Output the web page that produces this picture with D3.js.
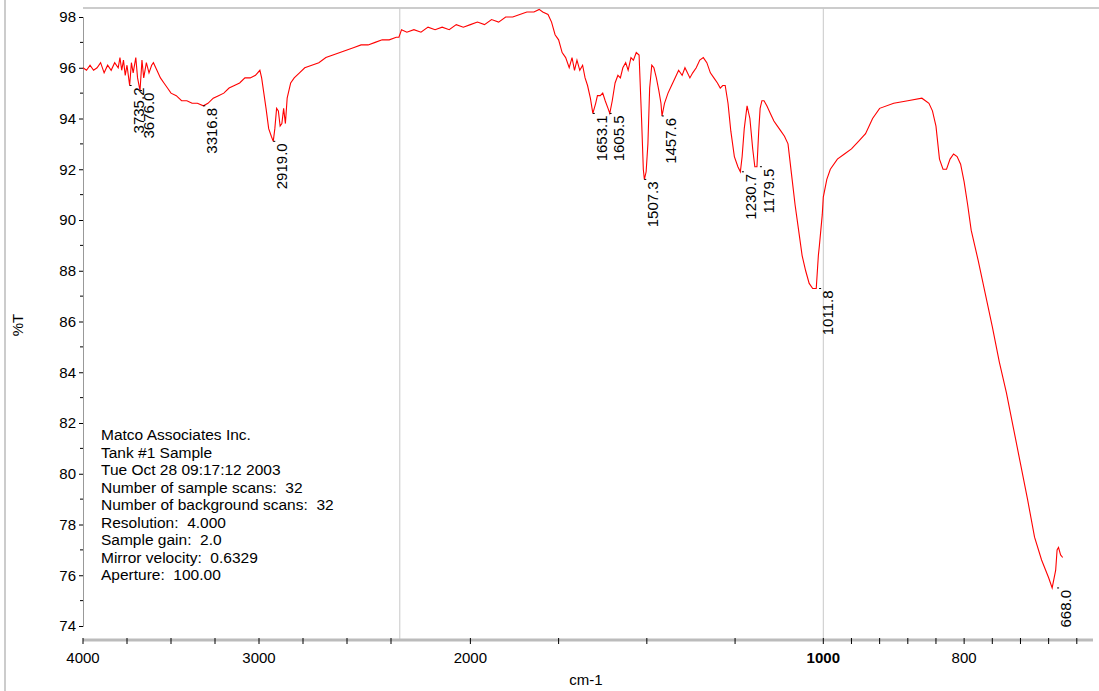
<!DOCTYPE html>
<html>
<head>
<meta charset="utf-8">
<script src="https://cdn.jsdelivr.net/npm/d3@7"></script>
<style>
body { margin: 0; background: #fff; font-family: "Liberation Sans", Arial, sans-serif; }
</style>
</head>
<body>
<script>
// spectrum, wavenumber (cm-1) and %T
const wavenumbers = [4000,3980,3960,3940,3920,3900,3880,3860,3840,3820,3800,3790,3780,3770,3760,3750,3735,3725,3715,3700,3690,3676,3665,3655,3640,3625,3610,3600,3580,3560,3540,3520,3500,3470,3440,3410,3380,3350,3316,3290,3260,3230,3200,3170,3140,3110,3080,3050,3020,2995,2985,2960,2945,2930,2919,2910,2900,2890,2880,2870,2860,2850,2840,2820,2800,2770,2740,2700,2660,2620,2580,2540,2500,2460,2420,2380,2340,2300,2260,2220,2205,2195,2180,2160,2140,2120,2100,2080,2060,2040,2020,2000,1980,1960,1940,1920,1900,1880,1860,1840,1820,1805,1795,1780,1770,1760,1750,1740,1730,1720,1712,1705,1698,1690,1682,1675,1668,1660,1653,1645,1640,1632,1625,1618,1610,1605,1598,1590,1582,1575,1568,1560,1553,1545,1538,1530,1522,1515,1510,1507,1502,1497,1492,1486,1480,1473,1466,1460,1457,1450,1440,1430,1420,1410,1400,1392,1385,1378,1370,1360,1350,1340,1330,1320,1310,1300,1292,1285,1278,1270,1262,1252,1242,1235,1230,1224,1216,1208,1200,1194,1188,1183,1179,1174,1168,1160,1150,1140,1130,1120,1110,1100,1090,1080,1070,1060,1050,1040,1030,1020,1014,1011,1007,1003,1000,995,990,980,970,960,950,940,930,920,900,880,860,850,845,840,835,830,825,820,815,810,805,800,795,790,780,770,760,750,740,730,720,710,700,690,680,675,670,668,666,663,660,655,650];
const transmittance = [96.0,95.9,96.1,95.9,96.0,96.2,95.8,96.1,95.9,96.2,96.0,96.4,95.9,96.3,95.7,96.1,95.3,96.2,95.8,96.4,95.6,95.1,96.3,95.6,96.2,95.8,96.1,96.2,95.9,95.6,95.4,95.2,95.0,94.9,94.7,94.7,94.6,94.6,94.5,94.6,94.8,94.9,95.0,95.2,95.3,95.4,95.6,95.6,95.7,95.9,95.6,94.4,93.6,93.3,93.1,93.6,94.4,94.3,93.7,93.8,94.4,93.8,94.8,95.4,95.6,95.8,96.0,96.1,96.2,96.4,96.5,96.6,96.7,96.8,96.9,96.9,97.0,97.1,97.1,97.2,97.2,97.5,97.4,97.5,97.4,97.6,97.5,97.6,97.5,97.7,97.6,97.7,97.8,97.7,97.9,97.8,98.0,98.0,98.1,98.2,98.2,98.3,98.2,98.1,97.8,97.3,97.1,96.6,96.4,96.0,96.4,95.9,96.3,95.9,96.1,95.6,95.3,94.8,94.2,94.6,94.9,94.9,95.0,94.7,94.4,94.2,94.7,95.4,95.7,95.6,96.0,96.2,95.9,96.4,96.3,96.6,96.5,94.0,92.0,91.6,91.9,93.0,95.2,96.1,96.0,95.6,95.1,94.6,94.1,94.6,95.0,95.3,95.6,95.9,95.7,96.0,95.8,95.6,95.8,96.0,96.3,96.4,96.2,95.8,95.6,95.4,95.2,95.3,95.3,94.6,93.5,92.5,92.1,91.9,92.5,93.6,94.5,94.0,92.8,92.1,92.1,93.5,94.4,94.7,94.7,94.5,94.2,93.9,93.7,93.5,93.3,93.0,91.8,90.6,89.6,88.6,88.0,87.5,87.3,87.3,88.6,89.0,89.6,90.2,90.9,91.6,92.0,92.4,92.6,92.8,93.1,93.4,94.0,94.4,94.6,94.7,94.8,94.6,94.3,93.7,92.4,92.0,92.0,92.4,92.6,92.5,92.2,91.5,90.6,89.6,88.4,87.1,85.8,84.4,83.2,81.8,80.4,79.0,77.5,76.6,75.9,75.5,76.2,77.0,77.1,76.8,76.7];

const peakLabels = ["3735.2","3676.0","3316.8","2919.0","1653.1","1605.5","1507.3","1457.6","1230.7","1179.5","1011.8","668.0"];
const peakPositions = [3735.2,3676.0,3316.8,2919.0,1653.1,1605.5,1507.3,1457.6,1230.7,1179.5,1011.8,668.0];
const peakValues = [95.3,95.1,94.5,93.1,94.2,94.2,91.6,94.1,91.9,92.1,87.3,75.5];

const yTicks = [74,76,78,80,82,84,86,88,90,92,94,96,98];
const xTickLabels = [4000,3000,2000,1000,800];
const xMinorTicks = [3750,3500,3250,2750,2500,2250,1750,1500,1250,960,920,880,840,760,720,680,640];
const infoLines = ["Matco Associates Inc.","Tank #1 Sample","Tue Oct 28 09:17:12 2003","Number of sample scans:  32","Number of background scans:  32","Resolution:  4.000","Sample gain:  2.0","Mirror velocity:  0.6329","Aperture:  100.00"];

const W = 1099, H = 691
const mLeft = 83, mRight = 1093, mTop = 8, mBottom = 640

const svg = d3.select("body").append("svg").attr("width", W).attr("height", H)

// frame border
svg.append("line").attr("x1", 5).attr("x2", 5).attr("y1", 0).attr("y2", H).attr("stroke", "#ccc").attr("stroke-width", 2)
svg.append("line").attr("x1", mLeft).attr("x2", W).attr("y1", mTop).attr("y2", mTop).attr("stroke", "#ccc").attr("stroke-width", 2)

// split x scale: 4000-2200, 2200-1000 at 2x, below 1000 at 4x
const x = d3.scaleLinear().domain([4000, 2200, 1000, 617]).range([mLeft, 399.8, 823.3, mRight])
const y = d3.scaleLinear().domain([98, 74]).range([17, 626])

// gray split lines
;[2200, 1000].forEach(function(v) {
    svg.append("line").attr("x1", x(v)).attr("x2", x(v)).attr("y1", mTop).attr("y2", mBottom)
        .attr("stroke", "#c8c8c8").attr("stroke-width", 1)
})

// y axis
const yAxis = svg.append("g").attr("transform", "translate(" + mLeft + ",0)")
    .call(d3.axisLeft(y).tickValues(yTicks).tickSize(4).tickFormat(d3.format("d")))
yAxis.select(".domain").attr("stroke", "#999")
yAxis.selectAll("text").attr("font-size", 15).attr("font-family", "Liberation Sans, Arial").attr("fill", "#000")
svg.append("g").selectAll("line").data(d3.range(75, 99, 2)).join("line")
    .attr("x1", mLeft - 3).attr("x2", mLeft).attr("y1", d => y(d)).attr("y2", d => y(d)).attr("stroke", "#000")

// x axis
svg.append("line").attr("x1", mLeft).attr("x2", mRight).attr("y1", mBottom).attr("y2", mBottom)
    .attr("stroke", "#bbb").attr("stroke-width", 3)
svg.append("g").selectAll("line").data(xTickLabels.concat(xMinorTicks)).join("line")
    .attr("x1", d => x(d)).attr("x2", d => x(d)).attr("y1", mBottom - 2).attr("y2", mBottom + 4).attr("stroke", "#000")
svg.append("g").selectAll("text").data(xTickLabels).join("text")
    .attr("x", d => x(d)).attr("y", mBottom + 23).attr("text-anchor", "middle")
    .attr("font-size", 15).attr("font-weight", d => d === 1000 ? "bold" : "normal").text(d => d)

svg.append("text").attr("x", 586).attr("y", 685).attr("text-anchor", "middle").attr("font-size", 15).text("cm-1")
svg.append("text").attr("transform", "translate(23,325) rotate(-90)").attr("text-anchor", "middle").attr("font-size", 15).text("%T")

// spectrum
const pts = d3.zip(wavenumbers, transmittance)
svg.append("path").datum(pts)
    .attr("d", d3.line().x(d => x(d[0])).y(d => y(d[1])))
    .attr("fill", "none").attr("stroke", "#ff0000").attr("stroke-width", 1.1)

// peak labels
peakLabels.forEach(function(lab, i) {
    const px = x(peakPositions[i]), py = y(peakValues[i])
    svg.append("line").attr("x1", px).attr("x2", px + 2).attr("y1", py).attr("y2", py).attr("stroke", "#000")
    svg.append("text").attr("transform", "translate(" + (px + 14) + "," + (py + 2) + ") rotate(-90)")
        .attr("text-anchor", "end").attr("font-size", 15).text(lab)
})

// info block
svg.append("g").selectAll("text").data(infoLines).join("text")
    .attr("x", 101).attr("y", (d, i) => 440 + i * 17.5).attr("font-size", 15.5)
    .style("white-space", "pre").text(d => d)
</script>
</body>
</html>
